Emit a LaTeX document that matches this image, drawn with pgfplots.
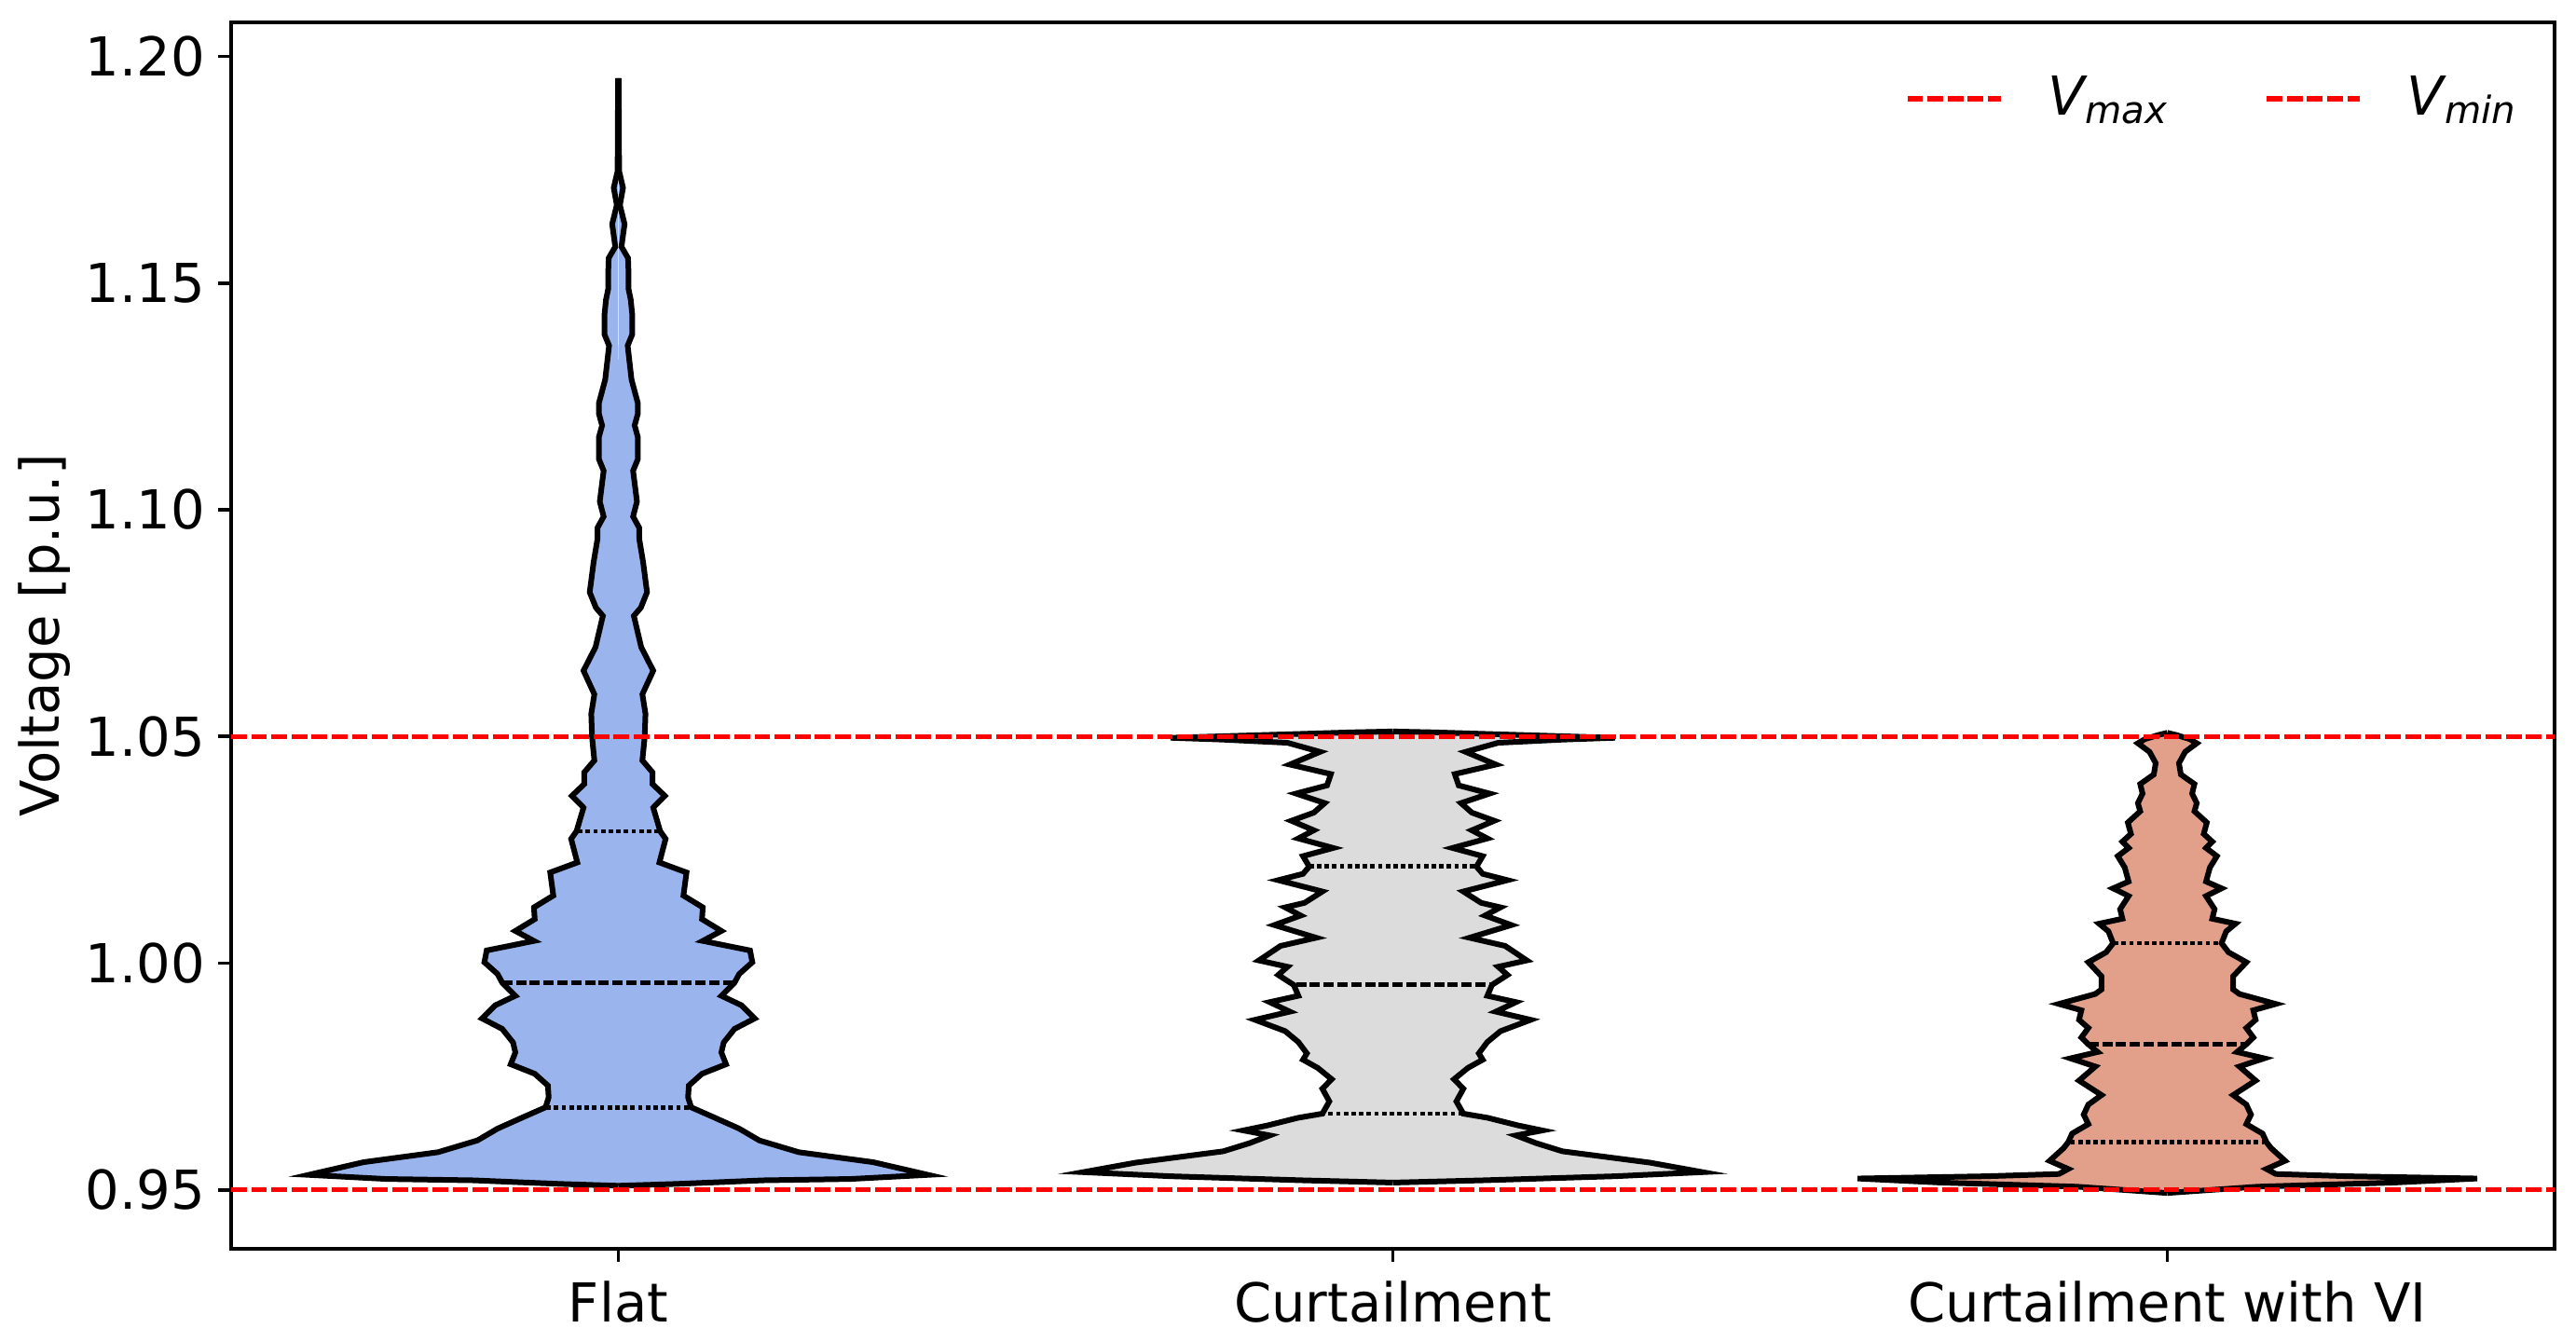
\documentclass[border=0pt]{standalone}
\usepackage{fontspec}
\setmainfont{DejaVu Sans}
\usepackage{pgfplots}
\pgfplotsset{compat=1.18}
\usepgfplotslibrary{fillbetween}
\usepackage{pgfplotstable}

\definecolor{cflat}{RGB}{154,181,238}
\definecolor{ccurt}{RGB}{220,220,220}
\definecolor{cvi}{RGB}{226,160,138}
\definecolor{cred}{RGB}{255,0,0}
\newcommand{\Vsub}[1]{\textit{V}\kern-0.6pt\raisebox{-2.1pt}{\fontsize{10.08}{12}\selectfont\textit{#1}}}

% half-width profiles (y, w)
\pgfplotstableread{
y w
0.9509 0
0.9513 0.074
0.9517 0.131
0.9521 0.187
0.9524 0.300
0.9533 0.400
0.9561 0.329
0.9583 0.233
0.9609 0.182
0.9635 0.156
0.9661 0.122
0.9682 0.094
0.9704 0.090
0.9730 0.091
0.9756 0.108
0.9777 0.139
0.9803 0.133
0.9825 0.136
0.9855 0.150
0.9878 0.176
0.9907 0.159
0.9928 0.133
0.9957 0.150
0.9976 0.156
1.0002 0.173
1.0028 0.170
1.0049 0.109
1.0071 0.133
1.0097 0.108
1.0123 0.109
1.0149 0.084
1.0200 0.088
1.0222 0.053
1.0274 0.061
1.0291 0.054
1.0343 0.045
1.0369 0.060
1.0395 0.044
1.0421 0.044
1.0447 0.031
1.0499 0.034
1.0550 0.035
1.0593 0.031
1.0645 0.045
1.0697 0.0295
1.0766 0.020
1.0784 0.029
1.0818 0.037
1.0884 0.032
1.0935 0.027
1.0960 0.027
1.0985 0.019
1.1018 0.024
1.1086 0.019
1.1111 0.025
1.1161 0.025
1.1186 0.021
1.1211 0.025
1.1236 0.025
1.1287 0.017
1.1362 0.012
1.1387 0.018
1.1429 0.018
1.1463 0.016
1.1488 0.013
1.1529 0.013
1.1555 0.0125
1.1580 0.004
1.1630 0.008
1.1672 0.002
1.1710 0.006
1.1747 0.001
1.1952 0.0004
}\flat

\pgfplotstableread{
y w
0.9516 0
0.9521 0.116
0.9530 0.287
0.9539 0.400
0.9560 0.332
0.9585 0.219
0.9603 0.185
0.9620 0.159
0.9631 0.193
0.9642 0.162
0.9659 0.122
0.9668 0.091
0.9695 0.082
0.9723 0.091
0.9744 0.079
0.9769 0.097
0.9787 0.116
0.9801 0.111
0.9826 0.122
0.9850 0.139
0.9875 0.178
0.9893 0.133
0.9914 0.159
0.9928 0.122
0.9952 0.128
0.9974 0.148
0.9992 0.136
1.0006 0.173
1.0038 0.145
1.0056 0.099
1.0084 0.153
1.0105 0.119
1.0123 0.139
1.0133 0.114
1.0158 0.091
1.0183 0.148
1.0197 0.116
1.0213 0.108
1.0236 0.116
1.0254 0.077
1.0275 0.122
1.0293 0.102
1.0314 0.131
1.0332 0.102
1.0353 0.088
1.0374 0.125
1.0392 0.085
1.0417 0.080
1.0438 0.133
1.0466 0.094
1.0486 0.136
1.0493 0.220
1.0497 0.287
1.0504 0.150
1.0509 0.054
1.0511 0
}\curt

\pgfplotstableread{
y w
0.9493 0
0.9500 0.058
0.9507 0.117
0.9516 0.292
0.9525 0.400
0.9530 0.233
0.9535 0.140
0.9546 0.128
0.9564 0.152
0.9578 0.143
0.9592 0.134
0.9605 0.128
0.9624 0.123
0.9645 0.102
0.9666 0.108
0.9688 0.102
0.9709 0.085
0.9741 0.114
0.9772 0.093
0.9790 0.125
0.9804 0.090
0.9821 0.102
0.9836 0.111
0.9857 0.102
0.9875 0.114
0.9896 0.111
0.9910 0.140
0.9932 0.093
0.9942 0.085
0.9971 0.085
1.0002 0.102
1.0024 0.079
1.0044 0.070
1.0070 0.076
1.0087 0.088
1.0098 0.058
1.0119 0.061
1.0148 0.050
1.0165 0.070
1.0180 0.050
1.0211 0.055
1.0236 0.064
1.0254 0.050
1.0268 0.058
1.0285 0.047
1.0310 0.051
1.0335 0.035
1.0353 0.038
1.0374 0.032
1.0395 0.035
1.0416 0.0175
1.0441 0.015
1.0466 0.023
1.0485 0.038
1.0494 0.029
1.0503 0.012
1.0508 0
}\vi

\begin{document}
\begin{tikzpicture}[font=\fontsize{14.4}{17}\selectfont]
\begin{axis}[
  set layers,
  scale only axis,
  width=623.25pt, height=329pt,
  xmin=-0.5, xmax=2.5,
  ymin=0.9370, ymax=1.2075,
  xtick={0,1,2},
  xticklabels={Flat, Curtailment, Curtailment with VI},
  xticklabel style={yshift=-1.75pt},
  ytick={0.95,1.00,1.05,1.10,1.15,1.20},
  yticklabel style={/pgf/number format/.cd, fixed, fixed zerofill, precision=2, assume math mode=true},
  tick pos=left,
  tick align=outside,
  major tick length=3.5pt,
  every tick/.style={black, line width=0.9pt},
  axis line style={line width=0.9pt},
  ylabel={Voltage [p.u.]},
  ylabel style={at={(axis description cs:-0.07421,0.5)}, anchor=base},
  legend columns=2,
  legend style={draw=none, fill=none, at={(axis description cs:1,0.9377)}, anchor=east, xshift=-5.25pt,
    /tikz/every even column/.append style={column sep=24pt},
    /tikz/every odd column/.append style={column sep=10pt}},
  legend image code/.code={\draw[#1] (0pt,0pt) -- (25pt,0pt);},
]
\pgfplotsset{vo/.style={draw=black, line width=1.5pt, forget plot}}
% Flat
\addplot[name path=fR, vo] table[x expr=0+\thisrow{w}, y=y] {\flat};
\addplot[name path=fL, vo] table[x expr=0-\thisrow{w}, y=y] {\flat};
\addplot[cflat, forget plot] fill between[of=fR and fL];
% Curtailment
\addplot[name path=cR, vo] table[x expr=1+\thisrow{w}, y=y] {\curt};
\addplot[name path=cL, vo] table[x expr=1-\thisrow{w}, y=y] {\curt};
\addplot[ccurt, forget plot] fill between[of=cR and cL];
% Curtailment with VI
\addplot[name path=vR, vo] table[x expr=2+\thisrow{w}, y=y] {\vi};
\addplot[name path=vL, vo] table[x expr=2-\thisrow{w}, y=y] {\vi};
\addplot[cvi, forget plot] fill between[of=vR and vL];

% quartiles
\pgfplotsset{qd/.style={black, line width=1.2pt, dash pattern=on 1.2pt off 0.85pt, forget plot},
             md/.style={black, line width=1.2pt, dash pattern=on 2.75pt off 0.95pt, forget plot}}
\addplot[qd] coordinates {(-0.093,0.9682) (0.093,0.9682)};
\addplot[md] coordinates {(-0.150,0.9957) (0.150,0.9957)};
\addplot[qd] coordinates {(-0.052,1.0291) (0.052,1.0291)};
\addplot[qd] coordinates {(0.907,0.9668) (1.093,0.9668)};
\addplot[md] coordinates {(0.875,0.9952) (1.125,0.9952)};
\addplot[qd] coordinates {(0.892,1.0213) (1.108,1.0213)};
\addplot[qd] coordinates {(1.875,0.9605) (2.125,0.9605)};
\addplot[md] coordinates {(1.898,0.9821) (2.102,0.9821)};
\addplot[qd] coordinates {(1.931,1.0044) (2.069,1.0044)};

% limits
\addplot[cred, line width=1.3pt, dash pattern=on 4.2pt off 1.2pt] coordinates {(-0.5,1.05) (2.5,1.05)};
\addlegendentry{\Vsub{max}}
\addplot[cred, line width=1.3pt, dash pattern=on 4.2pt off 1.2pt] coordinates {(-0.5,0.95) (2.5,0.95)};
\addlegendentry{\Vsub{min}}
\end{axis}
\path (current axis.south west) ++(-62pt,-25pt) coordinate (bbA);
\path (current axis.north east) ++(5.75pt,6pt) coordinate (bbB);
\path (bbA) rectangle (bbB);
\end{tikzpicture}
\end{document}
